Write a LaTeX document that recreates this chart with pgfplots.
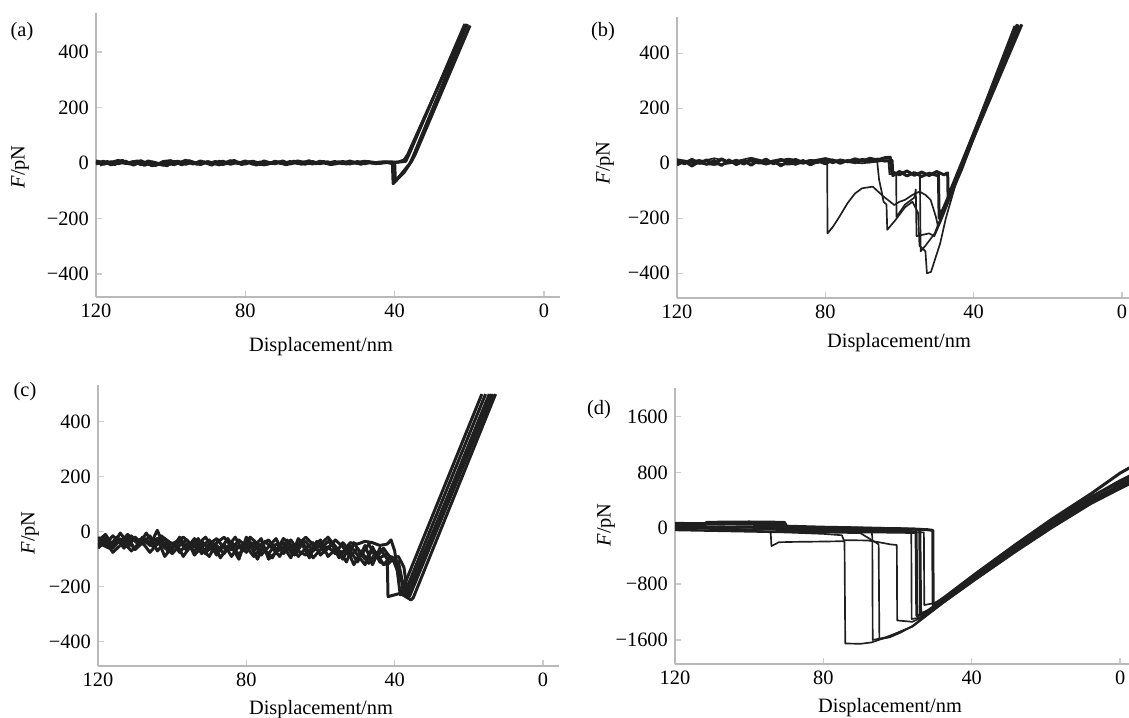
\documentclass[border=0pt]{standalone}
\usepackage{fontspec}
\setmainfont{Liberation Serif}
\usepackage{pgfplots}
\pgfplotsset{compat=1.18}

\pgfplotsset{
  afm/.style={
    scale only axis, anchor=south west,
    x dir=reverse,
    axis x line=bottom, axis y line=left,
    axis line style={-, draw=gray!55, line width=1.1pt},
    tick style={draw=gray!40, line width=0.8pt},
    tick align=inside, major tick length=0.12cm,
    xmax=120,
    xtick={120,80,40,0}, xticklabels={120,80,40,0},
    every axis plot/.append style={black!88, line join=round, no marks},
    tick label style={font=\fontsize{11.6}{13}\selectfont},
  },
  noisy/.style={line width=1.7pt},
  thin/.style={line width=0.95pt},
}

\begin{document}
\fontsize{11.6}{13.5}\selectfont
\begin{tikzpicture}
\useasboundingbox (0,0) rectangle (22.58,14.36);

% ---------- (a)
\begin{axis}[afm, at={(1.92cm,8.42cm)}, width=9.28cm, height=5.68cm,
  xmin=-4.3, ymin=-483, ymax=540,
  ytick={-400,-200,0,200,400}, yticklabels={−400,−200,0,200,400}]
\addplot[noisy] coordinates {
 (120,2) (118,-5) (116,4) (114,-3) (112,6) (110,-8) (108,3) (106,-4) (104,-9) (102,5)
 (100,8) (98,-2) (96,6) (94,-4) (92,7) (90,-3) (88,5) (86,-6) (84,4) (82,-2)
 (80,7) (78,-5) (76,3) (74,-4) (72,6) (70,-3) (68,5) (66,-2) (64,4) (62,-4)
 (60,6) (58,-1) (56,5) (54,-3) (52,7) (50,-2) (48,4) (46,-1) (44,3) (42,1)
 (40,2) (38,4) (37,6) (36,35) (21.2,500)};
\addplot[noisy] coordinates {
 (120,-4) (118,6) (116,-7) (114,3) (112,-2) (110,5) (108,-6) (106,7) (104,-3) (102,-8)
 (100,2) (98,6) (96,-5) (94,3) (92,-6) (90,4) (88,-3) (86,6) (84,-5) (82,3)
 (80,-4) (78,5) (76,-6) (74,2) (72,-3) (70,7) (68,-4) (66,3) (64,-5) (62,5)
 (60,-3) (58,4) (56,-4) (54,2) (52,-4) (50,5) (48,-3) (46,3) (44,-2) (42,2)
 (40.6,-2) (40.4,-75) (39,-55) (37.5,-35) (36,-5) (35,25) (20.5,500)};
\addplot[noisy] coordinates {
 (120,7) (117,-2) (114,9) (111,-4) (108,8) (105,-10) (102,0) (99,-6) (96,9) (93,-1)
 (90,4) (87,-7) (84,8) (81,-3) (78,6) (75,-7) (72,2) (69,-5) (66,7) (63,-2)
 (60,3) (57,-6) (54,5) (51,-1) (48,6) (45,-2) (42,4) (40,3) (39.8,-65) (38.5,-45)
 (37,-20) (35.5,5) (34.5,30) (19.8,495)};
\addplot[noisy] coordinates {
 (119,-8) (117,5) (115,-6) (113,9) (111,-2) (109,7) (107,-9) (105,4) (103,-3) (101,-10)
 (99,5) (97,-7) (95,8) (93,-5) (91,3) (89,-8) (87,6) (85,-3) (83,9) (81,-6)
 (79,4) (77,-8) (75,7) (73,-2) (71,4) (69,-7) (67,6) (65,-5) (63,8) (61,-3)
 (59,5) (57,-6) (55,4) (53,-4) (51,3) (49,-5) (47,5) (45,-3) (43,4) (41,0)
 (39,3) (37.5,10) (36.5,30) (20.8,500)};
\end{axis}

% ---------- (b)
\begin{axis}[afm, at={(13.54cm,8.394cm)}, width=9.04cm, height=5.632cm,
  xmin=-1.9, ymin=-491, ymax=533,
  ytick={-400,-200,0,200,400}, yticklabels={−400,−200,0,200,400}]
\addplot[noisy] coordinates {
 (120,10) (118,-2) (116,14) (114,0) (112,12) (110,-4) (108,16) (106,2) (104,11) (102,-3)
 (100,13) (98,1) (96,15) (94,-2) (92,12) (90,3) (88,14) (86,0) (84,10) (82,4)
 (80,15) (78,2) (76,12) (74,6) (72,16) (70,8) (68,18) (66,12) (64,20) (62.5,22)
 (62.2,-30) (60,-42) (58,-28) (56,-44) (54,-32) (52,-45) (50,-30) (48,-42) (47,-35)
 (46.9,-120) (28,505)};
\addplot[noisy] coordinates {
 (120,-6) (118,8) (116,-10) (114,6) (112,-4) (110,10) (108,-8) (106,12) (104,-5) (102,9)
 (100,-7) (98,11) (96,-3) (94,8) (92,-9) (90,6) (88,-4) (86,10) (84,-6) (82,9)
 (80,-2) (78,12) (76,0) (74,10) (72,2) (70,14) (68,5) (66,15) (64,8) (62,10)
 (61.8,-45) (60,-30) (58,-46) (56,-34) (54,-48) (52,-36) (50,-44) (49.5,-40)
 (49.3,-200) (27,505)};
\addplot[thin] coordinates {
 (120,3) (116,12) (112,-2) (108,10) (104,0) (100,14) (96,4) (92,16) (88,2) (84,12)
 (80.5,8) (79.5,0) (79.4,-255) (77.9,-230) (76,-190) (74,-145) (72,-110) (70.1,-91)
 (67.2,-85) (66,-100) (64.3,-121) (62.5,-140) (61.4,-152) (60,-140) (58.5,-133)
 (56.5,-115) (54.6,-103) (53,-115) (51.6,-133) (50.2,-194) (49.6,-230) (28.4,505)};
\addplot[thin] coordinates {
 (120,15) (115,2) (110,18) (105,5) (100,20) (95,3) (90,17) (85,6) (80,19) (75,4)
 (70,15) (67,10) (66,5) (65.5,-60) (64.7,-110) (64.3,-140) (63.5,-150) (63.3,-242)
 (61,-205) (58.5,-160) (56.5,-140) (55,-180) (54.6,-300) (53,-320) (52.6,-400)
 (51.5,-395) (49,-290) (47.5,-200) (46,-130) (44.5,-60) (42,20) (27.6,500)};
\addplot[thin] coordinates {
 (120,-2) (114,12) (108,-5) (102,10) (96,-4) (90,13) (84,-3) (78,11) (72,4) (66,14)
 (62.3,18) (62,-38) (58,-30) (55,-42) (54.5,-35) (54.3,-320) (53,-300) (50.5,-255)
 (29,500)};
\addplot[thin] coordinates {
 (120,6) (110,-6) (100,8) (90,-5) (80,9) (70,0) (63,10) (62.7,-40) (61,-35) (60.9,-40)
 (60.8,-195) (58.5,-150) (56,-125) (55.6,-95) (55.4,-265) (52,-255) (50.6,-265)
 (48.5,-200) (46,-115) (43,-20) (28.6,500)};
\end{axis}

% ---------- (c)
\begin{axis}[afm, at={(1.96cm,1.04cm)}, width=9.22cm, height=5.62cm,
  xmin=-4.3, ymin=-488, ymax=533,
  ytick={-400,-200,0,200,400}, yticklabels={−400,−200,0,200,400}]
\addplot[noisy] coordinates {
 (120,-20) (118,-45) (116,-15) (114,-40) (112,-10) (110,-35) (108,-25) (106,-50) (104,5) (102,-60)
 (100,-40) (98,-75) (96,-45) (94,-70) (92,-35) (90,-65) (88,-50) (86,-80) (84,-40) (82,-60)
 (80,-35) (78,-70) (76,-45) (74,-30) (72,-65) (70,-40) (68,-75) (66,-50) (64,-35) (62,-70)
 (60,-45) (58,-60) (56,-30) (54,-55) (52,-90) (50,-60) (48,-100) (46,-70) (44,-95) (42,-80)
 (40,-110) (38.5,-150) (37.5,-230) (15.5,500)};
\addplot[noisy] coordinates {
 (120,-50) (118,-25) (116,-60) (114,-30) (112,-55) (110,-20) (108,-45) (106,-15) (104,-70) (102,-40)
 (100,-80) (98,-50) (96,-30) (94,-85) (92,-55) (90,-30) (88,-70) (86,-45) (84,-90) (82,-50)
 (80,-75) (78,-40) (76,-85) (74,-55) (72,-25) (70,-80) (68,-50) (66,-90) (64,-60) (62,-40)
 (60,-85) (58,-55) (56,-80) (54,-40) (52,-70) (50,-110) (48,-50) (46,-120) (44,-60) (42,-100)
 (41.8,-236) (38.5,-224) (35.6,-248) (35,-240) (12.8,500)};
\addplot[noisy] coordinates {
 (120,-35) (118,-10) (116,-50) (114,-5) (112,-40) (110,-60) (108,-20) (106,-40) (104,-25) (102,-90)
 (100,-55) (98,-35) (96,-70) (94,-40) (92,-80) (90,-45) (88,-25) (86,-60) (84,-65) (82,-30)
 (80,-55) (78,-90) (76,-60) (74,-80) (72,-45) (70,-60) (68,-30) (66,-70) (64,-85) (62,-55)
 (60,-30) (58,-90) (56,-65) (54,-75) (52,-40) (50,-45) (48,-35) (46,-40) (44,-50) (42,-45)
 (41,-30) (40,-70) (39.5,-120) (38.5,-230) (16.5,500)};
\addplot[noisy] coordinates {
 (120,-40) (117,-60) (114,-25) (111,-70) (108,-30) (105,-55) (103,-15) (100,-45) (97,-20) (94,-55)
 (91,-20) (88,-85) (85,-25) (82,-85) (79,-20) (76,-55) (73,-95) (70,-25) (67,-60) (64,-20)
 (61,-60) (58,-20) (55,-70) (53,-110) (51,-40) (49,-85) (47,-45) (45,-95) (43,-60) (41,-100)
 (39,-90) (37.5,-130) (36.5,-230) (14.5,500)};
\addplot[noisy] coordinates {
 (119,-15) (117,-55) (115,-20) (113,-60) (111,-15) (109,-50) (107,-5) (105,-45) (103,-30) (101,-75)
 (99,-40) (97,-90) (95,-50) (93,-25) (91,-80) (89,-40) (87,-95) (85,-55) (83,-20) (81,-70)
 (79,-45) (77,-100) (75,-35) (73,-60) (71,-90) (69,-30) (67,-85) (65,-45) (63,-95) (61,-35)
 (59,-75) (57,-45) (55,-95) (53,-60) (51,-120) (49,-70) (47,-115) (45,-75) (43,-120) (41,-90)
 (39,-110) (37.8,-190) (37,-235) (14,500)};
\addplot[noisy] coordinates {
 (120,-60) (118,-35) (116,-75) (114,-50) (112,-20) (110,-65) (108,-40) (106,-75) (104,-45) (102,-25)
 (100,-65) (98,-20) (96,-60) (94,-25) (92,-65) (90,-90) (88,-40) (86,-20) (84,-55) (82,-100)
 (80,-20) (78,-55) (76,-25) (74,-100) (72,-75) (70,-55) (68,-95) (66,-25) (64,-55) (62,-95)
 (60,-65) (58,-35) (56,-55) (54,-100) (52,-50) (50,-85) (48,-120) (46,-55) (44,-110) (42,-120)
 (40.5,-100) (39,-150) (36,-235) (13.5,500)};
\end{axis}

% ---------- (d)
\begin{axis}[afm, at={(13.5cm,1.08cm)}, width=9.08cm, height=5.514cm,
  xmin=-2.4, ymin=-1944, ymax=2005,
  ytick={-1600,-800,0,800,1600}, yticklabels={−1600,−800,0,800,1600}]
\addplot[noisy] coordinates {
 (120,25) (110,20) (100,15) (90,10) (80,5) (70,0) (60,-5) (52,-20) (50.5,-30)
 (50.4,-1100) (47.4,-990) (38.7,-640) (28.1,-230) (18.4,130) (7.7,500) (0,790) (-3,880)};
\addplot[noisy] coordinates {
 (120,45) (112,38) (111.5,85) (100,90) (90.5,85) (90,30) (80,15) (70,5) (60,-10) (54,-15)
 (53.8,-1230) (50.4,-1150) (47.4,-1040) (38.7,-700) (28.1,-300) (18.4,40) (7.7,390) (0,600) (-3,680)};
\addplot[thin] coordinates {
 (120,10) (105,0) (94.2,-60) (94,-255) (92,-200) (88,-195) (80,-190) (74.3,-185)
 (74.1,-1650) (70,-1655) (67,-1635) (64,-1580) (60,-1500) (56,-1410) (53.3,-1300)
 (47.4,-1060) (38.7,-730) (28.1,-340) (18.4,0) (7.7,350) (0,560) (-3,640)};
\addplot[thin] coordinates {
 (120,0) (110,-10) (100,-20) (90,-25) (80,-30) (70,-35) (67,-40) (66.8,-130)
 (66.7,-1600) (63,-1560) (60,-1495) (56,-1405) (53.3,-1295) (47.4,-1055) (38.7,-720)
 (28.1,-330) (18.4,10) (7.7,360) (0,570) (-3,650)};
\addplot[thin] coordinates {
 (120,-20) (100,-40) (90,-50) (80,-60) (70,-70) (66,-200) (65.1,-230)
 (64.9,-1590) (62,-1560) (59,-1490) (56,-1400) (53.3,-1285) (47.4,-1045) (38.7,-705)
 (28.1,-310) (18.4,30) (7.7,380) (0,590) (-3,670)};
\addplot[thin] coordinates {
 (120,-30) (110,-40) (100,-50) (90,-60) (80,-80) (75,-100) (74.5,-170) (68,-175)
 (65,-200) (62,-230) (60.2,-240) (60.1,-1320) (56,-1340) (53.3,-1270) (47.4,-1030)
 (38.7,-690) (28.1,-290) (18.4,60) (7.7,400) (0,620) (-3,700)};
\addplot[thin] coordinates {
 (120,15) (105,10) (90,0) (75,-10) (60,-25) (56.3,-40) (56.2,-1300) (54,-1280)
 (50.4,-1140) (47.4,-1020) (38.7,-680) (28.1,-280) (18.4,70) (7.7,420) (0,630) (-3,710)};
\addplot[thin] coordinates {
 (120,60) (108,55) (95,45) (90.2,40) (90,5) (75,-20) (60,-40) (52.9,-60)
 (52.8,-1100) (50,-1070) (47.4,-1000) (38.7,-660) (28.1,-260) (18.4,100) (7.7,460) (0,650) (-3,730)};
\addplot[noisy] coordinates {
 (120,70) (112,65) (104,75) (96,70) (90.3,60) (90,-20) (80,-40) (70,-50) (60,-55) (55,-60)
 (54.8,-1250) (53.3,-1240) (47.4,-1010) (38.7,-670) (28.1,-270) (18.4,90) (7.7,450) (0,680) (-3,760)};
\end{axis}

% ---------- labels
\node at (0.44,13.72) {(a)};
\node at (12.06,13.72) {(b)};
\node at (0.50,6.52) {(c)};
\node at (11.98,6.16) {(d)};
\node[rotate=90] at (0.40,11.02) {\textit{F}/pN};
\node[rotate=90] at (12.10,11.10) {\textit{F}/pN};
\node[rotate=90] at (0.60,3.70) {\textit{F}/pN};
\node[rotate=90] at (12.12,3.86) {\textit{F}/pN};
\node at (6.42,7.42) {Displacement/nm};
\node at (17.98,7.50) {Displacement/nm};
\node at (6.42,0.16) {Displacement/nm};
\node at (17.80,0.20) {Displacement/nm};
\end{tikzpicture}
\end{document}
